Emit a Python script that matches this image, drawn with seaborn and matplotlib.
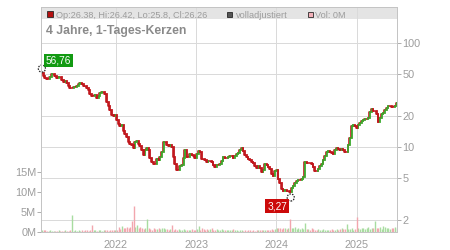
import numpy as np
import pandas as pd
import matplotlib
matplotlib.use("Agg")
import matplotlib.pyplot as plt
import matplotlib.dates as mdates
from matplotlib.patches import Rectangle
from matplotlib.ticker import FixedLocator, NullLocator, FuncFormatter
import seaborn as sns

# ---------------- data ----------------
close_2021 = [51.1, 48.5, 46.4, 44.7, 45.0, 47.1, 50.0, 50.3, 47.8, 46.4,
              47.1, 46.8, 43.8, 41.9, 43.5, 41.2, 38.9, 36.7, 36.7, 37.7,
              38.0, 38.9, 40.1, 40.9, 40.1, 38.9, 38.3, 37.2, 35.3, 32.1,
              30.7, 30.7, 31.6, 29.4, 31.2, 32.8, 33.5, 34.1, 32.1, 27.3,
              24.9, 22.7, 20.3, 19.7, 20.3, 18.2, 16.5, 15.8, 16.3, 14.2,
              13.4, 12.6, 11.1, 10.6, 10.45, 9.71, 11.1, 11.4, 10.8, 10.3,
              9.36, 8.38, 9.36, 9.85, 9.36, 7.78, 7.12, 6.9, 6.8, 7.66,
              7.45, 8.07, 9.02]
close_2022 = [11.2, 11.2, 10.45, 10.2, 10.45, 10.1, 8.0, 6.81, 6.01, 6.01,
              6.6, 6.71, 7.78, 9.36, 8.07, 8.07, 8.56, 8.38, 8.25, 7.90,
              8.62, 9.15, 8.89, 7.66, 7.6, 7.55, 7.23, 7.34, 7.34, 7.12,
              6.71, 6.47, 6.71, 6.71, 6.9, 7.34, 8.07, 7.78, 7.90, 8.0,
              8.2, 8.25, 7.90, 8.12, 8.62, 8.8, 9.3, 9.71, 9.15, 8.38,
              7.95, 7.66, 7.45, 7.23, 7.0, 6.57, 6.33, 6.6, 6.33, 5.79,
              6.01, 6.81, 6.71, 6.38, 6.1, 5.54, 5.3, 5.88, 6.01, 4.92,
              4.47, 3.95]
close_2024 = [3.78, 3.83, 3.75, 3.8, 3.72, 4.01, 4.25, 4.5, 4.71, 4.78,
              4.82, 4.88, 5.19, 7.23, 7.0, 7.08, 7.0, 6.86, 6.38, 5.93,
              5.88, 6.15, 6.57, 6.9, 7.45, 8.12, 8.89, 9.1, 8.95, 8.76,
              8.62, 9.3, 9.71, 9.64, 9.43, 9.57, 9.43, 8.89, 9.02, 10.45,
              12.1, 16.0, 16.4, 15.8, 15.3, 16.3, 17.2, 17.8, 18.0, 18.7,
              18.7, 18.9, 21.9, 23.2, 22.2, 22.2, 20.6, 17.5, 19.2, 20.6,
              21.4, 22.5, 23.5, 24.6, 24.8, 24.2, 24.1, 24.9, 26.26]

volume_m = [0.4, 0.5, 0.4, 0.3, 0.3, 0.5, 0.3, 0.2, 0.2, 0.3, 0.5, 0.3, 0.2, 0.3, 0.4, 0.3, 0.3, 0.6,
            4.3,
            0.3, 0.5, 0.3, 0.4, 0.3, 0.4, 0.3, 0.5, 0.4, 0.3, 0.4,
            1.8,
            0.4, 0.5, 0.3, 0.5, 0.4, 0.3, 0.4, 0.5, 0.4, 0.3, 0.4, 0.5, 0.6, 0.4, 0.5,
            1.2, 0.8, 1.4, 1.0, 0.9, 1.3, 1.1, 1.2,
            2.7, 6.4, 1.3, 1.8,
            1.0, 1.2, 1.1, 0.8, 1.0,
            3.3,
            0.9, 0.7, 0.6, 1.0, 0.8, 0.7, 0.9, 0.8, 1.0,
            0.9, 0.7, 0.8, 0.6, 0.7,
            1.8,
            0.6, 0.8, 0.5, 0.7, 0.6, 0.5, 0.7, 0.6, 0.4, 0.6, 0.5, 0.7, 0.5, 0.6, 0.8,
            1.4,
            0.6, 0.9, 0.7, 0.5, 0.8, 0.6, 0.7, 0.9, 0.5, 0.6, 0.8, 0.5, 0.6, 0.7, 0.5, 0.6,
            0.5, 0.4, 0.6, 0.5, 0.7, 0.4, 0.5, 0.3, 0.4, 0.5, 0.3, 0.4, 0.3, 0.5, 0.4, 0.3, 0.4, 0.3, 0.5, 0.4,
            0.5, 0.4, 0.6, 0.5, 0.4, 0.6, 0.5, 0.7, 0.6, 0.8, 1.1, 0.9, 1.0, 0.7,
            0.9, 1.0, 0.8, 1.1,
            3.3,
            1.0, 0.9, 1.2, 0.8, 0.9, 0.7, 1.0, 0.8,
            2.3,
            0.7, 0.8, 0.6, 0.9, 0.7, 0.5, 0.6, 0.8, 0.5, 0.6, 0.7, 0.5, 0.4, 0.6, 0.5, 0.7, 0.5, 0.6,
            0.8, 0.6, 0.7, 0.9, 0.8, 0.7,
            2.0,
            0.8, 0.7, 0.9, 0.6, 0.8,
            3.8,
            1.0, 0.8, 1.1, 0.9, 0.7, 1.0, 1.2, 0.8, 0.9, 1.1,
            2.7,
            1.0, 0.9, 1.2, 0.8,
            1.6, 1.2,
            0.9, 1.0, 0.8, 1.1, 0.9,
            1.3, 0.9]

start_date = "2021-01-30"
end_date = "2025-07-01"
x_min, x_max = "2021-01-26", "2025-07-02"
price_ticks = [2, 5, 10, 20, 50, 100]
volume_ticks = [0, 5, 10, 15]
high_max, high_max_label = 56.76, "56,76"
low_min, low_min_label, low_min_date = 3.27, "3,27", "2024-03-06"
header_ohlc = "Op:26.38, Hi:26.42, Lo:25.8, Cl:26.26"
title_text = "4 Jahre, 1-Tages-Kerzen"
legend_adj = "volladjustiert"
legend_vol = "Vol: 0M"

# ---------------- style ----------------
sns.set_style("white")
plt.rcParams["font.family"] = ["Liberation Sans", "DejaVu Sans"]

GREEN, RED = "#3aaa2c", "#c0161c"
VGREEN, VRED = "#a8dca0", "#f2a6ae"
GRID, SPINE, TXT = "#dadada", "#c4c4c4", "#9c9c9c"

close = np.array(close_2021 + close_2022 + close_2024)
dates = pd.date_range(start_date, end_date, periods=len(close))
opens = np.r_[close[0], close[:-1]]
up = close >= opens
vol = np.array(volume_m)

W, H = 450, 250
L, R, T, B = 41, 397, 7, 232
PX = 72 / 100  # points per pixel

fig = plt.figure(figsize=(W / 100, H / 100), dpi=100)
ax = fig.add_axes([L / W, 1 - B / H, (R - L) / W, (B - T) / H])
axv = ax.twinx()
ax.yaxis.tick_right()
axv.yaxis.tick_left()

# price candles (log scale, right axis): each candle spans open -> close
ax.set_yscale("log")
sns.lineplot(x=dates, y=close, ax=ax, color=RED, lw=1.6 * PX, zorder=2.5,
             drawstyle="steps-mid")
ax.vlines(dates[up], opens[up], close[up], colors=GREEN, lw=1.8 * PX,
          capstyle="projecting", zorder=3)
ax.vlines(dates[~up], opens[~up], close[~up], colors=RED, lw=1.8 * PX,
          capstyle="projecting", zorder=3)
ax.set_ylim(1.523, 222)
ax.set_xlim(pd.Timestamp(x_min), pd.Timestamp(x_max))
ax.yaxis.set_major_locator(FixedLocator(price_ticks))
ax.yaxis.set_minor_locator(NullLocator())
ax.yaxis.set_major_formatter(FuncFormatter(lambda v, p: f"{v:g}"))
ax.xaxis.set_major_locator(mdates.YearLocator())
ax.xaxis.set_major_formatter(mdates.DateFormatter("%Y"))
ax.set_axisbelow(True)
ax.grid(True, which="major", color=GRID, lw=1 * PX)

# header band
ax.add_patch(Rectangle((0, 1 - 12 / 225), 1, 12 / 225, transform=ax.transAxes,
                       fc="#e4e4e4", ec="none", zorder=0.3))

# volume (left axis)
axv.vlines(dates[up], 0, vol[up], colors=VGREEN, lw=1.4 * PX, zorder=2)
axv.vlines(dates[~up], 0, vol[~up], colors=VRED, lw=1.4 * PX, zorder=2)
axv.set_ylim(0, 56.25)
axv.yaxis.set_major_locator(FixedLocator(volume_ticks))
axv.yaxis.set_major_formatter(FuncFormatter(lambda v, p: f"{v:.0f}M"))
axv.grid(False)

# extreme markers
ext = pd.DataFrame({"date": [dates[0], pd.Timestamp(low_min_date)],
                    "price": [high_max, low_min]})
sns.scatterplot(data=ext, x="date", y="price", ax=ax, s=26,
                facecolor="white", edgecolor="#222222", linewidth=0.9,
                linestyle=(0, (1.2, 1.0)), zorder=6, clip_on=False, legend=False)
ax.annotate(high_max_label, xy=(dates[0], high_max), xytext=(16.7, 8.2),
            textcoords="offset pixels", ha="center", va="center", fontsize=7.3,
            color="white", zorder=7, annotation_clip=False,
            bbox=dict(boxstyle="square,pad=0.18", fc="#129a12", ec="none"))
ax.annotate(low_min_label, xy=(pd.Timestamp(low_min_date), low_min), xytext=(-13.7, -8.7),
            textcoords="offset pixels", ha="center", va="center", fontsize=7.3,
            color="white", zorder=7, annotation_clip=False,
            bbox=dict(boxstyle="square,pad=0.18", fc="#cc0a0a", ec="none"))

# ticks & spines
ax.tick_params(axis="y", which="both", left=False, right=True, length=3, width=1 * PX,
               color="#b0b0b0", labelcolor=TXT, labelsize=7.8, pad=1)
ax.tick_params(axis="x", length=3, width=1 * PX, color="#c8c8c8",
               labelcolor=TXT, labelsize=7.8, pad=3)
axv.tick_params(axis="y", left=True, right=False, length=3, width=1 * PX,
                color="#b0b0b0", labelcolor=TXT, labelsize=7.8, pad=0.5)
for a in (ax, axv):
    for s in a.spines.values():
        s.set_color(SPINE)
        s.set_linewidth(1 * PX)
ax.set_xlabel("")
ax.set_ylabel("")
axv.set_ylabel("")

# header texts
def fx(x):
    return x / W

def fy(y):
    return 1 - y / H

def square(x0, y0, size, fc):
    fig.add_artist(Rectangle((fx(x0), fy(y0 + size)), size / W, size / H,
                             transform=fig.transFigure, fc=fc, ec="#222222",
                             lw=0.8 * PX, zorder=10))

square(46.5, 11.2, 6, "#b41010")
fig.text(fx(56), fy(18), header_ohlc, fontsize=6.6, color=TXT, va="baseline", zorder=10)
square(226.7, 11.5, 5.8, "#555555")
fig.text(fx(236), fy(18), legend_adj, fontsize=6.6, color=TXT, va="baseline", zorder=10)
square(307.5, 11.5, 5.8, "#f2b0b8")
fig.text(fx(315), fy(18), legend_vol, fontsize=6.6, color=TXT, va="baseline", zorder=10)
fig.text(fx(46.5), fy(34.3), title_text, fontsize=8.8, fontweight="bold",
         color="#8a8a8a", va="baseline", zorder=10)

fig.savefig("out.png", dpi=100)
